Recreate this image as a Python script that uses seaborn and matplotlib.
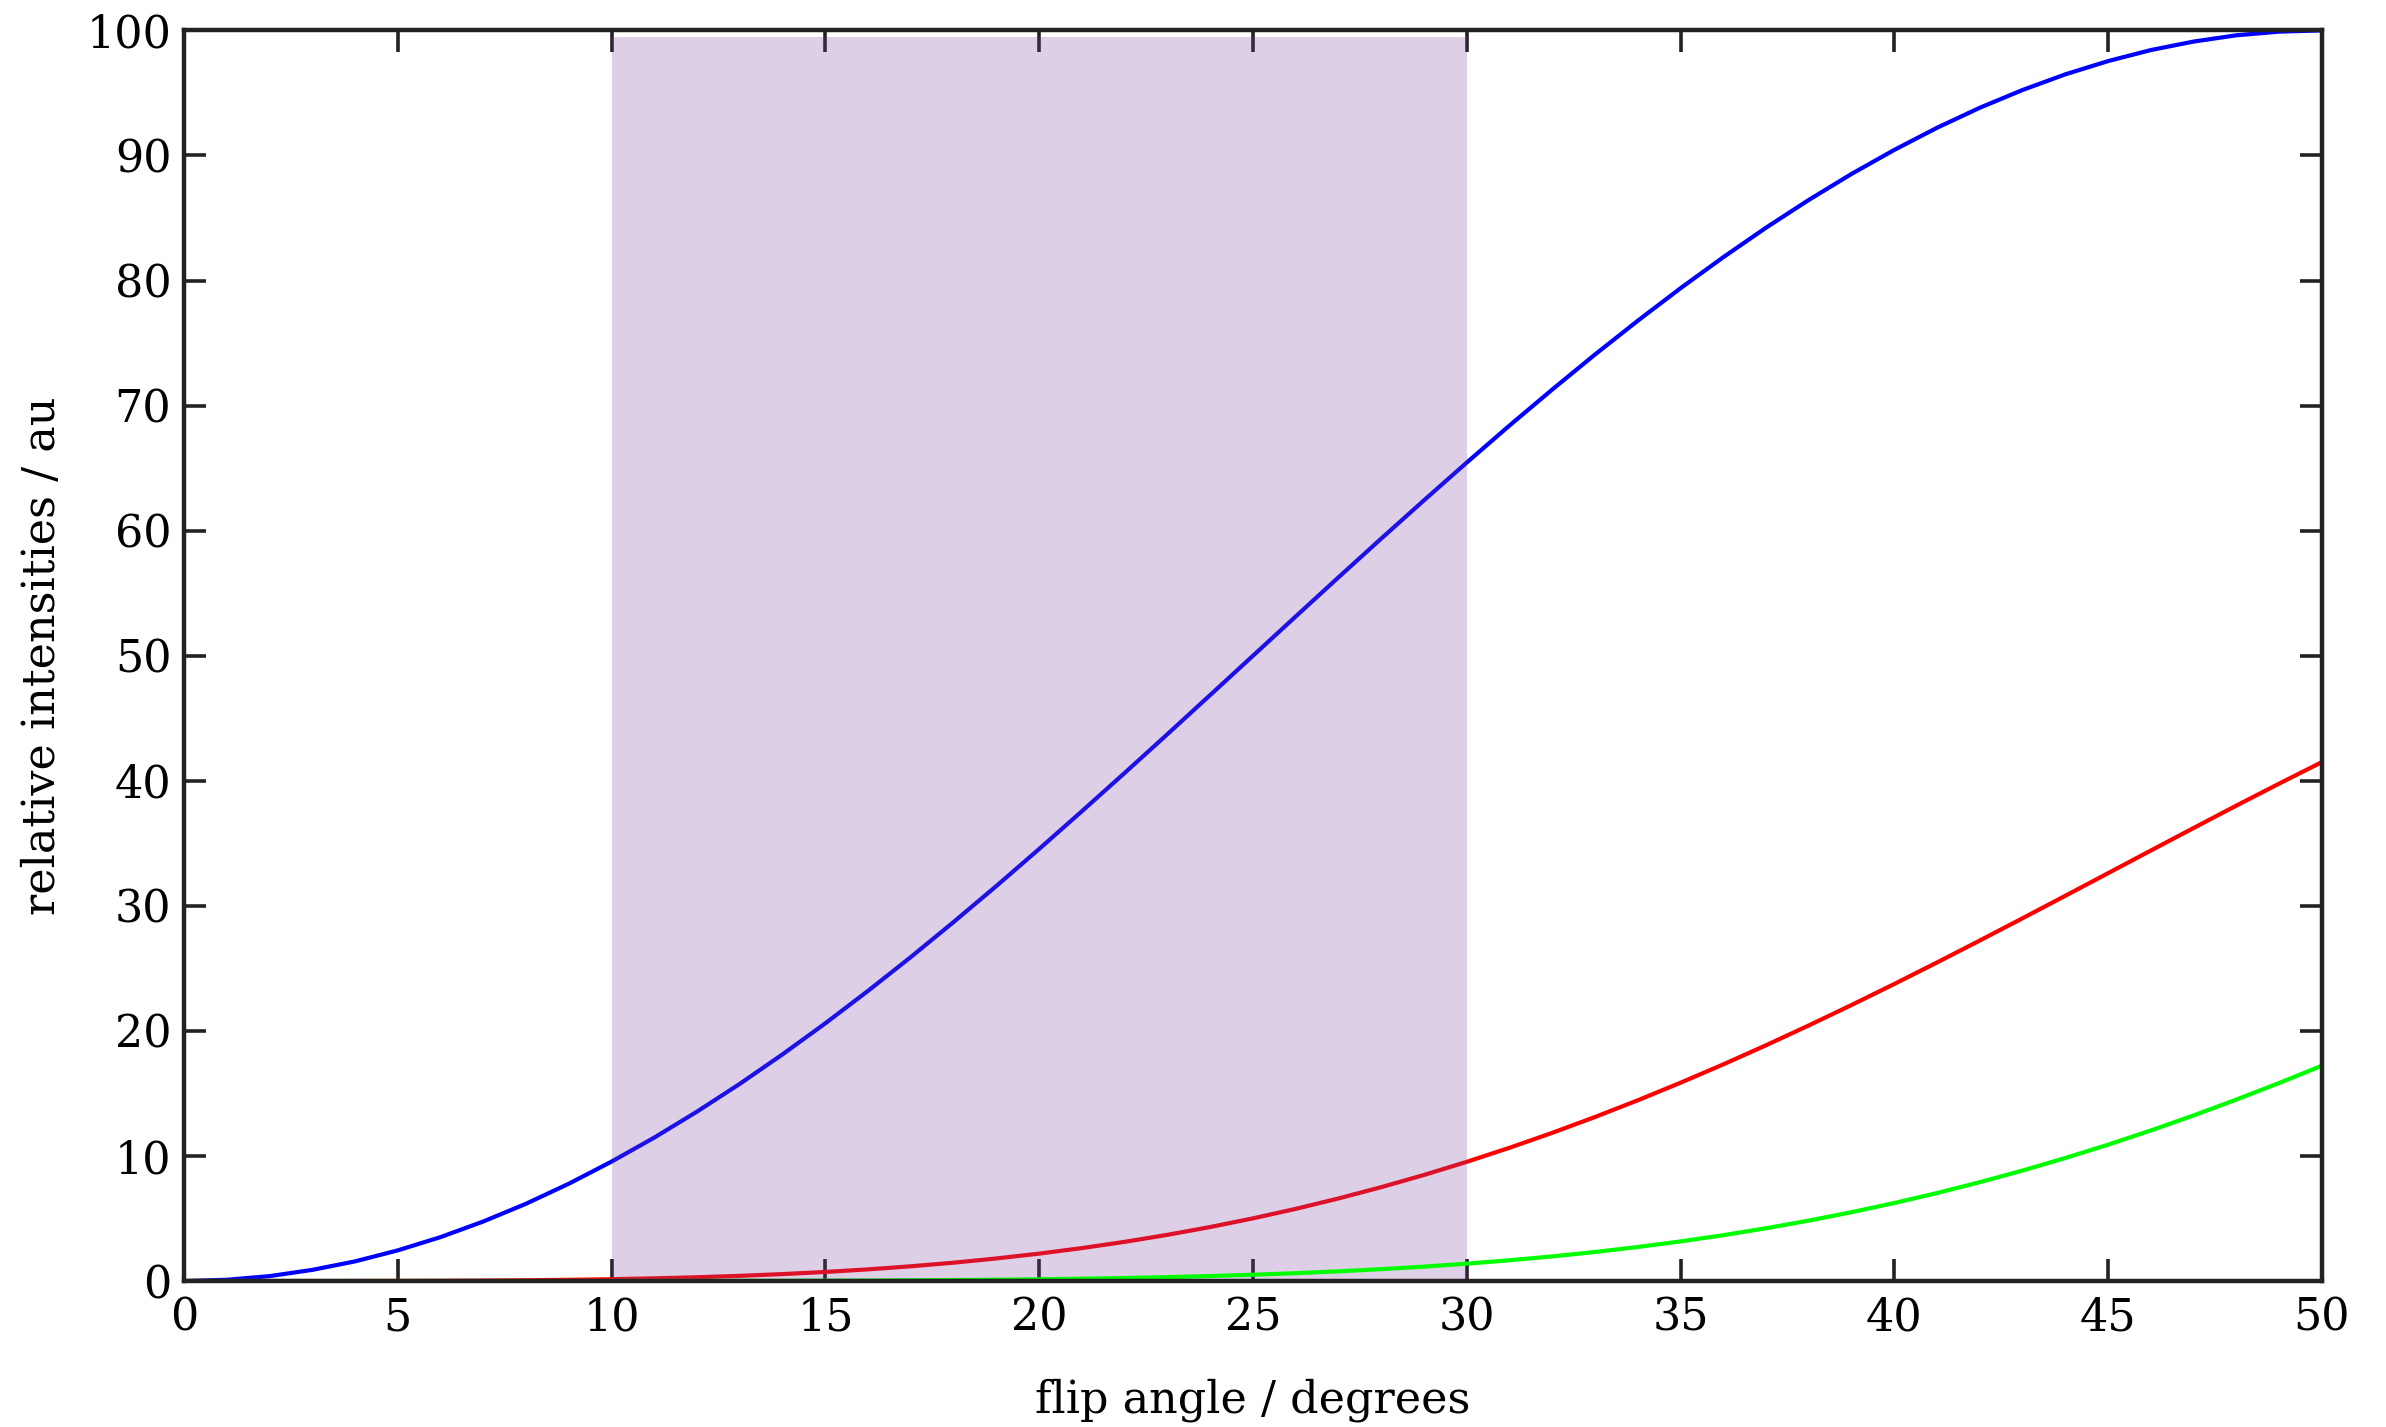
import matplotlib
matplotlib.use("Agg")
import matplotlib.pyplot as plt
import pandas as pd
import seaborn as sns

# ---- data ----
angle = list(range(51))
blue = [0.00, 0.10, 0.39, 0.89, 1.57, 2.45, 3.51, 4.76, 6.18, 7.78,
        9.55, 11.47, 13.55, 15.77, 18.13, 20.61, 23.21, 25.91, 28.71, 31.59,
        34.55, 37.57, 40.63, 43.73, 46.86, 50.00, 53.14, 56.27, 59.37, 62.43,
        65.45, 68.41, 71.29, 74.09, 76.79, 79.39, 81.87, 84.23, 86.45, 88.53,
        90.45, 92.22, 93.82, 95.24, 96.49, 97.55, 98.43, 99.11, 99.61, 99.90,
        100.00]
red = [0.0, 0.0, 0.0002, 0.0012, 0.0037, 0.0091, 0.019, 0.035, 0.060, 0.096,
       0.146, 0.214, 0.302, 0.414, 0.554, 0.725, 0.932, 1.178, 1.467, 1.804,
       2.191, 2.634, 3.133, 3.694, 4.319, 5.011, 5.771, 6.602, 7.506, 8.481,
       9.532, 10.656, 11.850, 13.118, 14.454, 15.858, 17.326, 18.855, 20.441, 22.075,
       23.757, 25.479, 27.234, 29.013, 30.811, 32.618, 34.429, 36.230, 38.021, 39.777,
       41.500]
green = [0.0, 0.0, 0.0, 0.0, 0.0, 0.0, 0.0001, 0.0003, 0.0006, 0.0012,
         0.0022, 0.0040, 0.0067, 0.0108, 0.0169, 0.0255, 0.0374, 0.0535, 0.0750, 0.1030,
         0.139, 0.185, 0.242, 0.312, 0.398, 0.502, 0.627, 0.775, 0.949, 1.152,
         1.388, 1.660, 1.970, 2.322, 2.721, 3.168, 3.667, 4.220, 4.833, 5.505,
         6.240, 7.039, 7.905, 8.838, 9.839, 10.906, 12.043, 13.244, 14.513, 15.838,
         17.223]
shade_range = [10, 30]
x_ticks = [0, 5, 10, 15, 20, 25, 30, 35, 40, 45, 50]
y_ticks = [0, 10, 20, 30, 40, 50, 60, 70, 80, 90, 100]
x_label = "flip angle / degrees"
y_label = "relative intensities / au"

sns.set_theme(style="ticks")
plt.rcParams['font.family'] = ['DejaVu Serif', 'DejaVu Sans']

fig = plt.figure(figsize=(23.86, 14.27), dpi=100)
ax = fig.add_axes([0.0771, 0.1023, 0.8961, 0.8764])

df_b = pd.DataFrame({"angle": angle, "value": blue})
df_r = pd.DataFrame({"angle": angle, "value": red})
df_g = pd.DataFrame({"angle": angle, "value": green})

lw = 3.0
sns.lineplot(data=df_b, x="angle", y="value", color="#0000FF", linewidth=lw, ax=ax, zorder=2)
sns.lineplot(data=df_r, x="angle", y="value", color="#FF0000", linewidth=lw, ax=ax, zorder=2)
ax.axvspan(shade_range[0], shade_range[1], ymin=0, ymax=0.995,
           color="#78449C", alpha=0.25, lw=0, zorder=3)
sns.lineplot(data=df_g, x="angle", y="value", color="#00FF00", linewidth=lw, ax=ax, zorder=4)

ax.set_xlim(0, 50)
ax.set_ylim(0, 100)
ax.set_xticks(x_ticks)
ax.set_yticks(y_ticks)
ax.set_axisbelow(True)

ax.tick_params(direction="in", length=16, width=2.6, top=True, right=True,
               labelsize=32, color="#222222", labelcolor="black")
ax.tick_params(axis="x", pad=11)
ax.tick_params(axis="y", pad=9)
for s in ax.spines.values():
    s.set_linewidth(3.2)
    s.set_color("#222222")
    s.set_zorder(5)

ax.set_xlabel(x_label, fontsize=32, color="black")
ax.set_ylabel(y_label, fontsize=32, color="black")
ax.xaxis.set_label_coords(0.5, -0.095)
ax.xaxis.label.set_va("center")
ax.yaxis.set_label_coords(-0.066, 0.5)
ax.yaxis.label.set_va("center")
ax.yaxis.label.set_ha("center")

fig.savefig("out.png", dpi=100)
